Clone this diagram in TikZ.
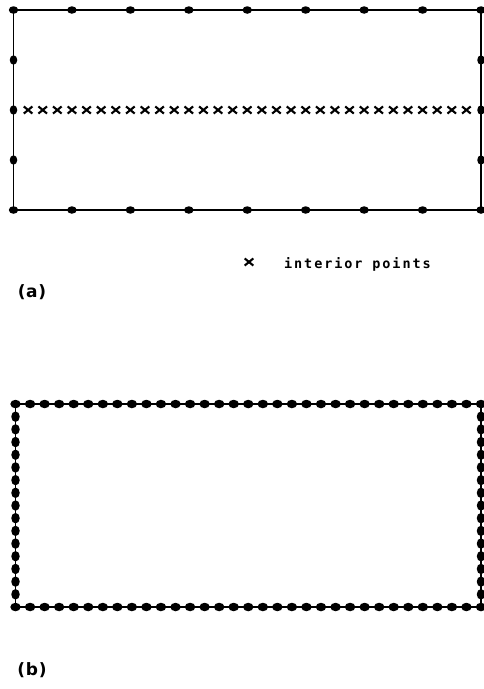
\documentclass[tikz,border=0pt]{standalone}
\usepackage{fontspec}
\usetikzlibrary{shapes.geometric,shapes.misc}
\setmainfont{DejaVu Sans}
\newfontfamily\legendfont[LetterSpace=14]{DejaVu Sans Mono}
\newfontfamily\labelfont[LetterSpace=4]{DejaVu Sans}
\begin{document}
\begin{tikzpicture}[x=1pt,y=-1pt,
  edge/.style={line width=1.7pt,line join=miter},
  hdotA/.style={ellipse,fill=black,inner sep=0pt,minimum width=9.5pt,minimum height=7.5pt},
  vdotA/.style={ellipse,fill=black,inner sep=0pt,minimum width=7.5pt,minimum height=9.5pt},
  hdotB/.style={ellipse,fill=black,inner sep=0pt,minimum width=10.5pt,minimum height=8.5pt},
  vdotB/.style={ellipse,fill=black,inner sep=0pt,minimum width=8.5pt,minimum height=10.5pt},
  xmark/.style={cross out,draw=black,line width=2.1pt,inner sep=0pt,minimum width=6.5pt,minimum height=5pt},
  legend/.style={font=\legendfont\bfseries\fontsize{13.5}{13.5}\selectfont,inner sep=0pt,anchor=base west},
  sublabel/.style={font=\labelfont\bfseries\fontsize{17}{17}\selectfont,inner sep=0pt}
]
\useasboundingbox (0,0) rectangle (483,689);
% ---------- (a) ----------
\coordinate (a1) at (13.5,10);
\coordinate (a2) at (481,10);
\coordinate (a3) at (481,210);
\coordinate (a4) at (13.5,210);
\draw[edge] (a1) -- (a2) -- (a3) -- (a4) -- cycle;
\foreach \i in {0,...,8}{
  \node[hdotA] (at\i) at ({13.5+\i*58.4375},10) {};
  \node[hdotA] (ab\i) at ({13.5+\i*58.4375},210) {};
}
\foreach \j in {1,2,3}{
  \node[vdotA] (al\j) at (13.5,{10+\j*50}) {};
  \node[vdotA] (ar\j) at (481,{10+\j*50}) {};
}
\foreach \k in {1,...,31}{
  \node[xmark] (ix\k) at ({13.5+\k*14.609},110) {};
}
\node[xmark] (legx) at (249,262) {};
\node[legend] (legt) at (284,268) {interior points};
\node[sublabel] (la) at (32,292) {(a)};
% ---------- (b) ----------
\coordinate (b1) at (15.5,404);
\coordinate (b2) at (481,404);
\coordinate (b3) at (481,607);
\coordinate (b4) at (15.5,607);
\draw[edge] (b1) -- (b2) -- (b3) -- (b4) -- cycle;
\foreach \i in {0,...,32}{
  \node[hdotB] (bt\i) at ({15.5+\i*14.547},404) {};
  \node[hdotB] (bb\i) at ({15.5+\i*14.547},607) {};
}
\foreach \j in {1,...,15}{
  \node[vdotB] (bl\j) at (15.5,{404+\j*12.6875}) {};
  \node[vdotB] (br\j) at (481,{404+\j*12.6875}) {};
}
\node[sublabel] (lb) at (32,670) {(b)};
\end{tikzpicture}
\end{document}
